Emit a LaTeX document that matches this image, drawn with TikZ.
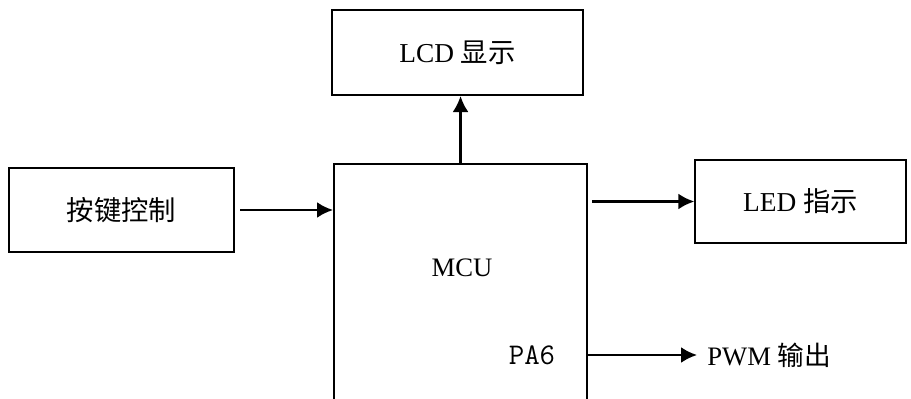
\documentclass[tikz,border=0pt]{standalone}
\usepackage{fontspec}
\setmainfont{Liberation Serif}
\newfontfamily\cjk{Noto Sans CJK SC}
\usetikzlibrary{arrows.meta, positioning}

\begin{document}
\begin{tikzpicture}[
  x=0.75pt, y=-0.75pt,
  box/.style={rectangle, draw, line width=1.3pt, align=center, font=\fontsize{20.5}{24}\selectfont},
  lbl/.style={inner sep=0pt, font=\fontsize{20}{24}\selectfont},
  >={Latex[length=12pt, width=12pt]},
  conn/.style={->, line width=1.8pt}
]
\clip (0,0) rectangle (911,399);

\node[box, minimum width=190pt, minimum height=195pt, anchor=north west] (mcu) at (333,163) {};
\node[lbl] (mcutxt) at (462,268) {MCU};
\node[lbl, font=\ttfamily\fontsize{22.5}{26}\selectfont] (pa) at (532,355) {PA6};

\node[box, minimum width=188pt, minimum height=64pt] (lcd) at (457.5,52.5) {LCD {\cjk 显示}};
\node[box, minimum width=169pt, minimum height=63pt] (key) at (121.5,210) {\cjk 按键控制};
\node[box, minimum width=158pt, minimum height=62pt] (led) at (800.5,201.5) {LED {\cjk 指示}};
\node[lbl, anchor=west, inner xsep=7.5pt] (pwm) at (697,355) {PWM {\cjk 输出}};

\draw[conn] (mcu.north) -- (mcu.north |- lcd.south);
\draw[conn] ([xshift=4pt]key.east) -- (key.east -| mcu.west);
\draw[conn] ([xshift=3pt]mcu.east |- led.west) -- (led.west);
\draw[conn] (mcu.east |- pa) -- (pwm.west);
\end{tikzpicture}
\end{document}
